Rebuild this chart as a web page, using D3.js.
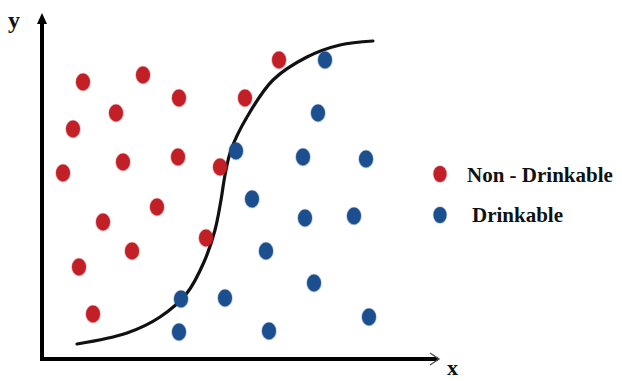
<!DOCTYPE html>
<html>
<head>
<meta charset="utf-8">
<script src="https://cdn.jsdelivr.net/npm/d3@7"></script>
<style>
  html, body { margin: 0; padding: 0; background: #fff; }
  svg { display: block; }
</style>
</head>
<body>
<svg id="chart" width="622" height="381"></svg>
<script>
// Data (arbitrary units)
const nonDrinkableX = [41, 101, 137, 203, 237, 31, 74, 21, 81, 136, 178, 61, 115, 90, 164, 37, 51];
const nonDrinkableY = [277, 284, 261, 261, 299, 230, 246, 186, 197, 202, 192, 137, 152, 108, 121, 92, 45];
const drinkableX = [283, 276, 194, 261, 324, 210, 263, 312, 224, 272, 139, 183, 327, 137, 227];
const drinkableY = [299, 246, 208, 202, 200, 160, 141, 143, 108, 76, 60, 61, 42, 27, 28];
const boundaryX = [35, 85, 118, 145, 162, 173, 179, 183, 189, 205, 231, 265, 298, 331];
const boundaryY = [15, 26, 42, 66, 97, 129, 159, 184, 209, 242, 279, 302, 314, 318];
const legendLabels = ["Non - Drinkable", "Drinkable"];
const axisLabels = ["x", "y"];

const svg = d3.select("#chart");
const x = d3.scaleLinear().domain([0, 400]).range([42, 442]);
const y = d3.scaleLinear().domain([0, 340]).range([359, 19]);

const RED = "#c31f26", BLUE = "#1c4f8f";

// Axes
svg.append("line").attr("x1", x(0)).attr("y1", y(0) + 2).attr("x2", x(0)).attr("y2", 18)
  .attr("stroke", "#000").attr("stroke-width", 4);
svg.append("path").attr("d", `M${x(0)-5},24 L${x(0)},13 L${x(0)+5},24 Z`).attr("fill", "#000");
svg.append("line").attr("x1", x(0) - 2).attr("y1", y(0)).attr("x2", 438).attr("y2", y(0))
  .attr("stroke", "#000").attr("stroke-width", 4);
svg.append("path").attr("d", `M430,${y(0)-6} L439,${y(0)} L430,${y(0)+6}`)
  .attr("fill", "none").attr("stroke", "#555").attr("stroke-width", 1.5);

svg.append("text").attr("x", 8).attr("y", 28).text(axisLabels[1])
  .attr("font-family", "Liberation Serif").attr("font-weight", "bold").attr("font-size", 24).attr("fill", "#111");
svg.append("text").attr("x", 447).attr("y", 375).text(axisLabels[0])
  .attr("font-family", "Liberation Serif").attr("font-weight", "bold").attr("font-size", 22).attr("fill", "#111");

// Boundary curve
const pts = boundaryX.map((d, i) => [x(d), y(boundaryY[i])]);
svg.append("path").attr("d", d3.line().curve(d3.curveCatmullRom.alpha(0.5))(pts))
  .attr("fill", "none").attr("stroke", "#111").attr("stroke-width", 3.2).attr("stroke-linecap", "round");

function dots(xs, ys, color) {
  svg.append("g").selectAll("ellipse").data(xs).join("ellipse")
    .attr("cx", d => x(d)).attr("cy", (d, i) => y(ys[i]))
    .attr("rx", 7).attr("ry", 8.5)
    .attr("fill", color).attr("stroke", color).attr("stroke-opacity", 0.35).attr("stroke-width", 1.5);
}
dots(nonDrinkableX, nonDrinkableY, RED);
dots(drinkableX, drinkableY, BLUE);

// Legend
const leg = svg.append("g");
[RED, BLUE].forEach((c, i) => {
  leg.append("ellipse").attr("cx", 440).attr("cy", 174 + i * 41).attr("rx", 6.5).attr("ry", 8)
    .attr("fill", c).attr("stroke", c).attr("stroke-opacity", 0.35).attr("stroke-width", 1.5);
  leg.append("text").attr("x", i === 0 ? 467 : 472).attr("y", 182 + i * 40).text(legendLabels[i])
    .attr("font-family", "Liberation Serif").attr("font-weight", "bold").attr("font-size", 21).attr("fill", "#111");
});
</script>
</body>
</html>
